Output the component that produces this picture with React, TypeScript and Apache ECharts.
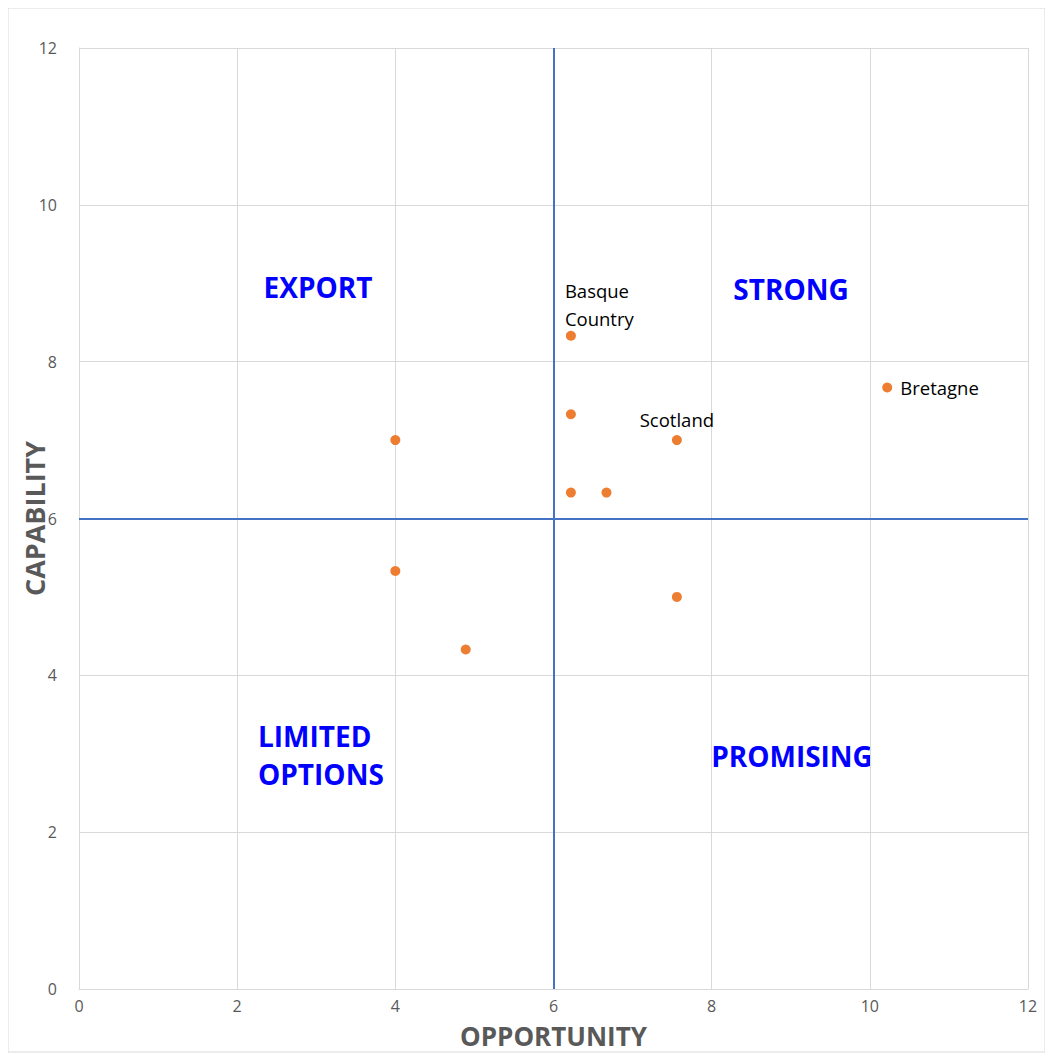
import React, { useEffect, useRef } from "react";
import * as echarts from "echarts";

const opportunity = [4, 4, 4.89, 6.22, 6.22, 6.22, 6.67, 7.56, 7.56, 10.22];
const capability = [7, 5.33, 4.33, 8.33, 7.33, 6.33, 6.33, 7, 5, 7.67];
const pointNames = ["", "", "", "Basque\nCountry", "", "", "", "Scotland", "", "Bretagne"];
const xTicks = [0, 2, 4, 6, 8, 10, 12];
const yTicks = [0, 2, 4, 6, 8, 10, 12];
const quadrantLabels = ["EXPORT", "STRONG", "LIMITED\nOPTIONS", "PROMISING"];

export default function App() {
  const ref = useRef<HTMLDivElement>(null);
  useEffect(() => {
    const chart = echarts.init(ref.current!, null, { renderer: "svg" });
    const font = "Open Sans, Noto Sans, sans-serif";
    const data = opportunity.map((x, i) => {
      const name = pointNames[i];
      const item: any = { value: [x, capability[i]], name };
      if (name === "Bretagne") {
        item.label = { show: true, position: "right", distance: 8, formatter: name };
      } else if (name === "Scotland") {
        item.label = { show: true, position: "top", distance: 6, formatter: name };
      } else if (name) {
        item.label = {
          show: true,
          position: "top",
          align: "left",
          offset: [-6, 8],
          distance: 6,
          lineHeight: 28,
          formatter: name,
        };
      }
      return item;
    });
    const q = { fill: "#0000ff", font: `bold 28px ${font}`, textVerticalAlign: "middle" };
    chart.setOption({
      animation: false,
      backgroundColor: "#fff",
      grid: { left: 79, right: 25, top: 48, bottom: 65, containLabel: false, outerBoundsMode: "none" },
      xAxis: {
        type: "value",
        min: xTicks[0],
        max: xTicks[xTicks.length - 1],
        interval: 2,
        name: "OPPORTUNITY",
        nameLocation: "middle",
        nameGap: 33,
        nameMoveOverlap: false,
        nameTextStyle: { fontSize: 26, lineHeight: 28, fontWeight: "bold", color: "#595959", fontFamily: font },
        axisLine: { show: true, lineStyle: { color: "#d9d9d9", width: 1 } },
        axisTick: { show: false },
        axisLabel: { color: "#595959", fontSize: 16, margin: 9, fontFamily: font },
        splitLine: { show: true, lineStyle: { color: "#d9d9d9", width: 1 } },
      },
      yAxis: {
        type: "value",
        min: yTicks[0],
        max: yTicks[yTicks.length - 1],
        interval: 2,
        name: "CAPABILITY",
        nameLocation: "middle",
        nameGap: 31,
        nameMoveOverlap: false,
        nameTextStyle: { fontSize: 27, fontWeight: "bold", color: "#595959", fontFamily: font },
        axisLine: { show: true, lineStyle: { color: "#d9d9d9", width: 1 } },
        axisTick: { show: false },
        axisLabel: { color: "#595959", fontSize: 16, margin: 22, fontFamily: font },
        splitLine: { show: true, lineStyle: { color: "#d9d9d9", width: 1 } },
      },
      graphic: [
        {
          type: "rect",
          shape: { x: 8, y: 8, width: 1037, height: 1044 },
          style: { fill: "none", stroke: "#d9d9d9", lineWidth: 1 },
          silent: true,
          z: -1,
        },
        { type: "text", x: 318, y: 287, style: { ...q, text: quadrantLabels[0], textAlign: "center" } },
        { type: "text", x: 791, y: 289, style: { ...q, text: quadrantLabels[1], textAlign: "center" } },
        { type: "text", x: 258, y: 755, style: { ...q, text: quadrantLabels[2], textAlign: "left", lineHeight: 38 } },
        { type: "text", x: 792, y: 756, style: { ...q, text: quadrantLabels[3], textAlign: "center" } },
      ],
      series: [
        {
          type: "scatter",
          symbol: "circle",
          symbolSize: 10,
          itemStyle: { color: "#ED7D31", opacity: 1 },
          label: { color: "#000", fontSize: 18.5, fontFamily: font },
          data,
          markLine: {
            silent: true,
            symbol: "none",
            label: { show: false },
            lineStyle: { color: "#4472C4", width: 2, type: "solid" },
            data: [{ xAxis: 6 }, { yAxis: 6 }],
          },
          z: 3,
        },
      ],
    });
    return () => chart.dispose();
  }, []);
  return <div ref={ref} style={{ width: 1053, height: 1054, marginLeft: -8, marginTop: -8 }} />;
}
